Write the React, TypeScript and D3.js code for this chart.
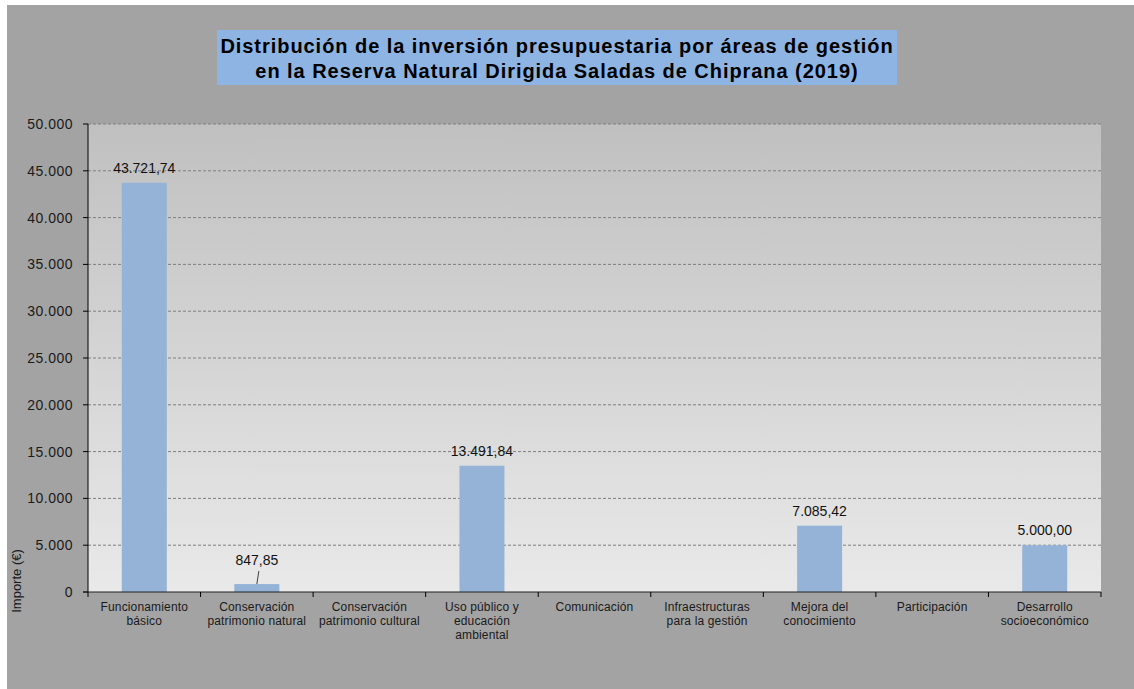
import React from "react";
import * as d3 from "d3";

const titleLines = [
  "Distribución de la inversión presupuestaria por áreas de gestión",
  "en la Reserva Natural Dirigida Saladas de Chiprana (2019)",
];
const categories = [
  ["Funcionamiento", "básico"],
  ["Conservación", "patrimonio natural"],
  ["Conservación", "patrimonio cultural"],
  ["Uso público y", "educación", "ambiental"],
  ["Comunicación"],
  ["Infraestructuras", "para la gestión"],
  ["Mejora del", "conocimiento"],
  ["Participación"],
  ["Desarrollo", "socioeconómico"],
];
const values = [43721.74, 847.85, 0, 13491.84, 0, 0, 7085.42, 0, 5000.0];
const yTicks = [0, 5000, 10000, 15000, 20000, 25000, 30000, 35000, 40000, 45000, 50000];
const yAxisLabel = "Importe (€)";

const locale = d3.formatLocale({ decimal: ",", thousands: ".", grouping: [3], currency: ["", "€"] });
const fmtTick = locale.format(",.0f");
const fmtVal = locale.format(",.2f");

export default function App() {
  const W = 1134, H = 689;
  const left = 88, right = 1101, top = 124, bottom = 592;
  const x = d3.scaleBand<number>().domain(d3.range(categories.length)).range([left, right]).paddingInner(0).paddingOuter(0);
  const y = d3.scaleLinear().domain([0, 50000]).range([bottom, top]);
  const bw = x.bandwidth() * 0.4;
  const font = "Arial, 'Liberation Sans', sans-serif";
  return (
    <svg width={W} height={H} style={{ position: "absolute", left: 0, top: 0, background: "#fff" }} fontFamily={font}>
      <defs>
        <linearGradient id="pg" x1="0" y1="0" x2="0" y2="1">
          <stop offset="0" stopColor="#c0c0c0" />
          <stop offset="1" stopColor="#e9e9e9" />
        </linearGradient>
      </defs>
      <rect x={7} y={5} width={W - 7} height={H - 5} fill="#a3a3a3" />
      <rect x={217} y={30} width={680} height={55} fill="#8db4e2" />
      {titleLines.map((t, i) => (
        <text key={i} x={557} y={53 + i * 25} textAnchor="middle" fontSize={20} fontWeight="bold" letterSpacing={0.95} fill="#000">{t}</text>
      ))}
      <rect x={left} y={top} width={right - left} height={bottom - top} fill="url(#pg)" />
      {yTicks.map((t) => (
        <g key={t}>
          {t > 0 && (
            <line x1={left} x2={right} y1={y(t)} y2={y(t)} stroke="#7f7f7f" strokeWidth={1} strokeDasharray="3,2" />
          )}
          <line x1={left - 5} x2={left} y1={y(t)} y2={y(t)} stroke="#000" />
          <text x={73} y={y(t)} dy="0.35em" textAnchor="end" fontSize={14} letterSpacing={0.5} fill="#1a1a1a">{fmtTick(t)}</text>
        </g>
      ))}
      {values.map((v, i) => {
        if (v <= 0) return null;
        const cx = (x(i) as number) + x.bandwidth() / 2;
        const yt = y(v);
        const small = bottom - yt < 20;
        const ly = small ? yt - 19 : yt - 10;
        return (
          <g key={i}>
            <rect x={cx - bw / 2} y={yt} width={bw} height={bottom - yt} fill="#95b3d7" />
            {small && <line x1={cx + 2} y1={ly + 6} x2={cx} y2={yt} stroke="#404040" strokeWidth={1} />}
            <text x={cx} y={ly} textAnchor="middle" fontSize={14} fill="#111">{fmtVal(v)}</text>
          </g>
        );
      })}
      <line x1={left} x2={left} y1={top} y2={bottom} stroke="#000" strokeWidth={1} />
      <line x1={left - 5} x2={right} y1={bottom} y2={bottom} stroke="#222" strokeWidth={1.2} />
      {d3.range(categories.length + 1).map((k) => {
        const xx = left + k * x.step();
        return <line key={k} x1={xx} x2={xx} y1={bottom} y2={bottom + 5} stroke="#000" />;
      })}
      {categories.map((lines, i) => {
        const cx = (x(i) as number) + x.bandwidth() / 2;
        return (
          <text key={i} x={cx} y={611} textAnchor="middle" fontSize={12} letterSpacing={0.15} fill="#1a1a1a">
            {lines.map((l, j) => (
              <tspan key={j} x={cx} y={611 + j * 14}>{l}</tspan>
            ))}
          </text>
        );
      })}
      <text transform={`translate(21,${581}) rotate(-90)`} textAnchor="middle" fontSize={13} fill="#1a1a1a">{yAxisLabel}</text>
    </svg>
  );
}
